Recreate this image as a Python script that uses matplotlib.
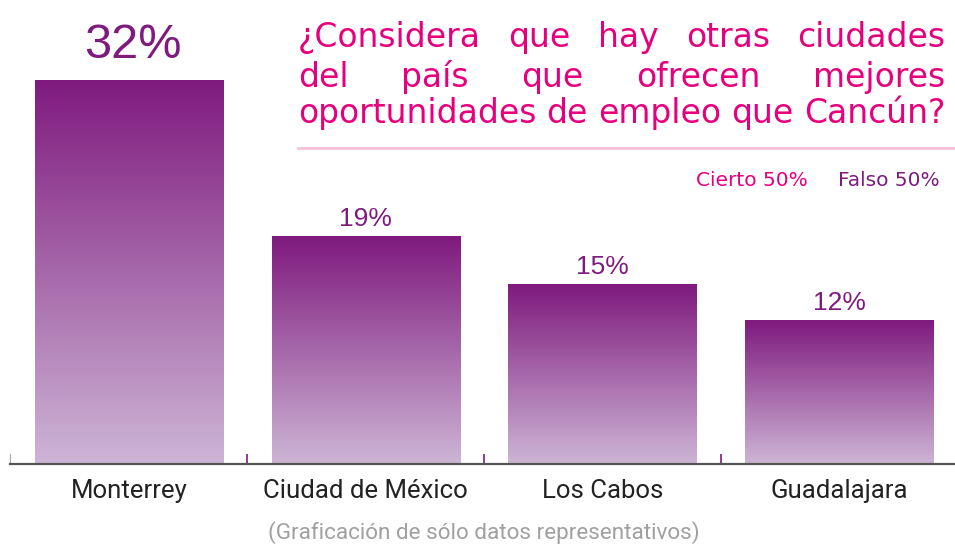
import numpy as np
import matplotlib
matplotlib.use("Agg")
import matplotlib.pyplot as plt
from matplotlib.colors import LinearSegmentedColormap

# data
cities = ["Monterrey", "Ciudad de México", "Los Cabos", "Guadalajara"]
values = [32, 19, 15, 12]
value_labels = ["32%", "19%", "15%", "12%"]
title_lines = [
    "¿Considera que hay otras ciudades",
    "del país que ofrecen mejores",
    "oportunidades de empleo que Cancún?",
]
legend_items = ["Cierto 50%", "Falso 50%"]
footnote = "(Graficación de sólo datos representativos)"

PURPLE = "#7f1a7e"
LIGHT = "#cdb5d5"
PINK = "#e6007e"
NARROW = ["Liberation Sans Narrow", "Roboto", "DejaVu Sans"]

W, H = 955, 549
fig = plt.figure(figsize=(W / 100, H / 100), dpi=100)

# axes: baseline at y=464 px, 12 px per percent point
base_px = 464
ax = fig.add_axes([10 / W, (H - base_px) / H, 1 - 10 / W, base_px / H])
ax.set_ylim(0, base_px / 12)
ax.set_xlim(-0.503, 3.49)

x = np.arange(len(cities))
bars = ax.bar(x, values, width=0.795, color="none", edgecolor="none")

cmap = LinearSegmentedColormap.from_list("bar", [LIGHT, PURPLE])
grad = np.linspace(0, 1, 256).reshape(-1, 1)
for b in bars:
    x0, w, h = b.get_x(), b.get_width(), b.get_height()
    im = ax.imshow(grad, cmap=cmap, origin="lower", aspect="auto",
                   extent=(x0, x0 + w, 0, h), interpolation="bilinear", zorder=2)
    im.set_clip_path(b)

# value labels
for i, (b, lab) in enumerate(zip(bars, value_labels)):
    big = i == 0
    ax.annotate(lab, (b.get_x() + b.get_width() / 2, b.get_height()),
                xytext=(3 if big else 0, 16 if big else 7), textcoords="offset points",
                ha="center", va="baseline", color=PURPLE,
                fontsize=35 if big else 19, family="Liberation Sans")

ax.set_xticks(x)
ax.set_xticklabels(cities, family=NARROW, fontsize=18.5, color="#222222")
ax.tick_params(axis="x", which="major", length=0, pad=11)
ax.set_xticks([0.5, 1.5, 2.5], minor=True)
ax.tick_params(axis="x", which="minor", direction="in", length=7, width=1.2, color=PURPLE)
ax.set_yticks([])
for s in ["top", "right"]:
    ax.spines[s].set_visible(False)
ax.spines["bottom"].set_color("#555555")
ax.spines["bottom"].set_linewidth(1.6)
ax.spines["left"].set_color("#aaaaaa")
ax.spines["left"].set_bounds(0, 0.8)
ax.set_zorder(1)

# title, justified between x=298 and x=945
fig.canvas.draw()
r = fig.canvas.get_renderer()
left_px, right_px = 298, 945
probe = fig.text(0, 0, title_lines[2], fontsize=20, family="DejaVu Sans")
tsize = 20 * (right_px - left_px) / probe.get_window_extent(r).width
probe.remove()

baselines = [47, 87, 123]
for line, yb in zip(title_lines, baselines):
    words = line.split()
    texts = [fig.text(0, 1 - yb / H, wd, fontsize=tsize, family="DejaVu Sans",
                      color=PINK, va="baseline") for wd in words]
    widths = [t.get_window_extent(r).width for t in texts]
    gap = (right_px - left_px - sum(widths)) / (len(words) - 1)
    xp = left_px
    for t, wd in zip(texts, widths):
        t.set_x(xp / W)
        xp += wd + gap

fig.add_artist(plt.Line2D([298 / W, 1], [1 - 148 / H] * 2, color="#f5c0d8", lw=2))

fig.text(940 / W, 1 - 186 / H, legend_items[1], ha="right", va="baseline",
         fontsize=14.5, family="DejaVu Sans", color=PURPLE)
fig.text(808 / W, 1 - 186 / H, legend_items[0], ha="right", va="baseline",
         fontsize=14.5, family="DejaVu Sans", color=PINK)

fig.text(484 / W, 1 - 533 / H, footnote, ha="center", va="center",
         fontsize=16.2, family=NARROW, color="#a0a0a0")

fig.savefig("out.png", dpi=100)
